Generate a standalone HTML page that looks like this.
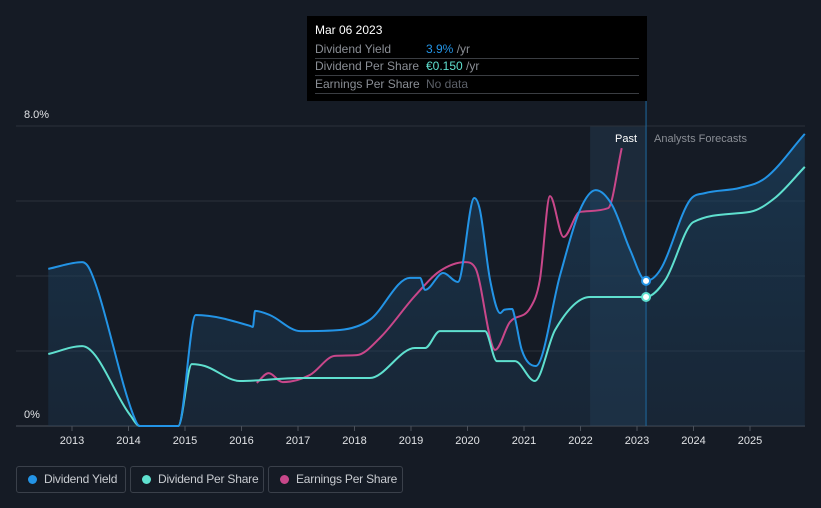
<!DOCTYPE html>
<html><head><meta charset="utf-8"><style>
html,body{margin:0;background:#151b25;width:821px;height:508px;overflow:hidden;font-family:"Liberation Sans",sans-serif}
svg{position:absolute;left:0;top:0}
.leg{position:absolute;top:466px;height:27px;border:1px solid #3a404a;border-radius:3px;color:#c8cbd0;font-size:12px;line-height:25px;box-sizing:border-box;padding-left:27px;white-space:nowrap;overflow:hidden;letter-spacing:-0.2px}
.leg i{position:absolute;left:11px;top:8px;width:9px;height:9px;border-radius:50%}
#tip{position:absolute;left:307px;top:16px;width:340px;height:85px;background:#000;color:#8a8e95;font-size:12px}
#tip .r{position:absolute;left:8px;width:324px;border-bottom:1px solid #3a3d42;height:17px;line-height:17px}
#tip .v{position:absolute;left:111px}
</style></head><body>
<svg width="821" height="508" id="chart"></svg>
<div id="tip">
<div style="position:absolute;left:8px;top:7px;color:#fff;font-size:12px">Mar 06 2023</div>
<div class="r" style="top:25px">Dividend Yield<span class="v"><span style="color:#2394e6">3.9%</span> /yr</span></div>
<div class="r" style="top:42px">Dividend Per Share<span class="v"><span style="color:#5fe0cf">€0.150</span> /yr</span></div>
<div class="r" style="top:60px">Earnings Per Share<span class="v" style="color:#5c6068">No data</span></div>
</div>
<div class="leg" style="left:16px;width:110px"><i style="background:#2394e6"></i>Dividend Yield</div>
<div class="leg" style="left:130px;width:134px"><i style="background:#5fe0cf"></i>Dividend Per Share</div>
<div class="leg" style="left:268px;width:135px"><i style="background:#c8478a"></i>Earnings Per Share</div>
<script>
const yieldYears=[2012.58,2013.18,2013.32,2014.12,2014.2,2014.88,2015.19,2016.15,2016.2,2016.24,2016.5,2017.04,2017.74,2018.27,2018.98,2019.16,2019.25,2019.57,2019.83,2020.12,2020.22,2020.4,2020.58,2020.65,2020.79,2020.84,2020.96,2021.21,2021.64,2021.99,2022.27,2022.56,2022.88,2023.16,2023.41,2023.94,2024.2,2024.82,2025.27,2025.97];
const yieldVals=[4.19,4.37,4.16,0.16,0,0,2.96,2.67,2.64,3.07,2.96,2.53,2.56,2.83,3.95,3.95,3.63,4.08,3.84,6.08,5.76,3.89,3.01,3.1,3.12,2.88,2.03,1.6,4.03,5.76,6.29,5.89,4.69,3.87,4.16,6.03,6.21,6.35,6.61,7.79];
const dpsYears=[2012.58,2013.18,2014.03,2014.2,2014.88,2015.12,2015.35,2015.97,2017.04,2018.27,2019.07,2019.25,2019.51,2020.31,2020.52,2020.84,2021.19,2021.55,2022.17,2023.16,2023.5,2024.0,2025.0,2025.44,2025.97];
const dpsVals=[1.92,2.13,0.29,0,0,1.65,1.6,1.2,1.28,1.28,2.08,2.08,2.53,2.53,1.73,1.73,1.2,2.56,3.44,3.44,3.89,5.44,5.71,6.08,6.91];
const epsYears=[2016.27,2016.48,2016.73,2017.21,2017.65,2018.04,2018.45,2019.07,2019.51,2019.96,2020.14,2020.49,2020.75,2021.11,2021.28,2021.46,2021.7,2021.99,2022.49,2022.73];
const epsVals=[1.15,1.41,1.17,1.36,1.87,1.89,2.35,3.47,4.13,4.37,4.21,2.03,2.77,3.15,3.89,6.13,5.04,5.71,5.81,7.41];
const xTicks=[2013,2014,2015,2016,2017,2018,2019,2020,2021,2022,2023,2024,2025];
const yGrid=[0,2,4,6,8];
const X=y=>72+(y-2013)*56.5, Y=v=>426-v*37.5;
const NS='http://www.w3.org/2000/svg', svg=document.getElementById('chart');
function mk(t,a,p){const e=document.createElementNS(NS,t);for(const k in a)e.setAttribute(k,a[k]);(p||svg).appendChild(e);return e;}
function path(xs,vs){const p=xs.map((x,i)=>[X(x),Y(vs[i])]);const n=p.length;
const s=[];for(let i=0;i<n-1;i++)s.push((p[i+1][1]-p[i][1])/(p[i+1][0]-p[i][0]));
const m=[s[0]];for(let i=1;i<n-1;i++)m.push(s[i-1]*s[i]<=0?0:(s[i-1]+s[i])/2);m.push(s[n-2]);
for(let i=0;i<n-1;i++){if(s[i]===0){m[i]=0;m[i+1]=0;continue;}const a=m[i]/s[i],b=m[i+1]/s[i],h=a*a+b*b;if(h>9){const t=3/Math.sqrt(h);m[i]=t*a*s[i];m[i+1]=t*b*s[i];}}
let d='M'+p[0][0]+','+p[0][1];
for(let i=0;i<n-1;i++){const dx=(p[i+1][0]-p[i][0])/3;d+=' C'+(p[i][0]+dx)+','+(p[i][1]+m[i]*dx)+' '+(p[i+1][0]-dx)+','+(p[i+1][1]-m[i+1]*dx)+' '+p[i+1][0]+','+p[i+1][1];}return d;}
const defs=mk('defs',{});
const g=mk('linearGradient',{id:'gf',x1:0,y1:0,x2:0,y2:1},defs);
mk('stop',{offset:0,'stop-color':'#1d4a6e','stop-opacity':0.55},g);mk('stop',{offset:1,'stop-color':'#1d3a55','stop-opacity':0.35},g);
const today=2023.16;
let e=mk('rect',{x:X(2022.17),y:126,width:X(today)-X(2022.17),height:300,fill:'#1c2a3a'});

yGrid.forEach(v=>{const l=mk('line',{x1:16,x2:805,y1:Y(v),y2:Y(v),stroke:v==0?'#4a505a':'#2b313b','stroke-width':1});
});
const dY=path(yieldYears,yieldVals);
e=mk('path',{d:dY+' L'+X(yieldYears[yieldYears.length-1])+',426 L'+X(yieldYears[0])+',426 Z',fill:'url(#gf)'});

e=mk('line',{x1:X(today),x2:X(today),y1:101,y2:426,stroke:'#1e6aa0','stroke-width':1});

e=mk('path',{d:path(epsYears,epsVals),fill:'none',stroke:'#c8478a','stroke-width':2});

e=mk('path',{d:path(dpsYears,dpsVals),fill:'none',stroke:'#5fe0cf','stroke-width':2});

e=mk('path',{d:dY,fill:'none',stroke:'#2394e6','stroke-width':2});

e=mk('circle',{cx:X(today),cy:Y(3.87),r:4,fill:'#fff',stroke:'#2394e6','stroke-width':2});

e=mk('circle',{cx:X(today),cy:Y(3.44),r:4,fill:'#fff',stroke:'#5fe0cf','stroke-width':2});

xTicks.forEach(t=>{const l=mk('line',{x1:X(t),x2:X(t),y1:426,y2:431,stroke:'#4a505a'});

const tx=mk('text',{x:X(t),y:444,fill:'#e0e2e5','font-size':11,'text-anchor':'middle'});tx.textContent=t;
});
[['8.0%',8],['0%',0]].forEach(([s,v])=>{const tx=mk('text',{x:24,y:Y(v)-8,fill:'#e0e2e5','font-size':11});tx.textContent=s;
});
e=mk('text',{x:X(today)-9,y:142,fill:'#fff','font-size':11,'text-anchor':'end'});e.textContent='Past';

e=mk('text',{x:X(today)+8,y:142,fill:'#8a8e95','font-size':11});e.textContent='Analysts Forecasts';

</script>
</body></html>
